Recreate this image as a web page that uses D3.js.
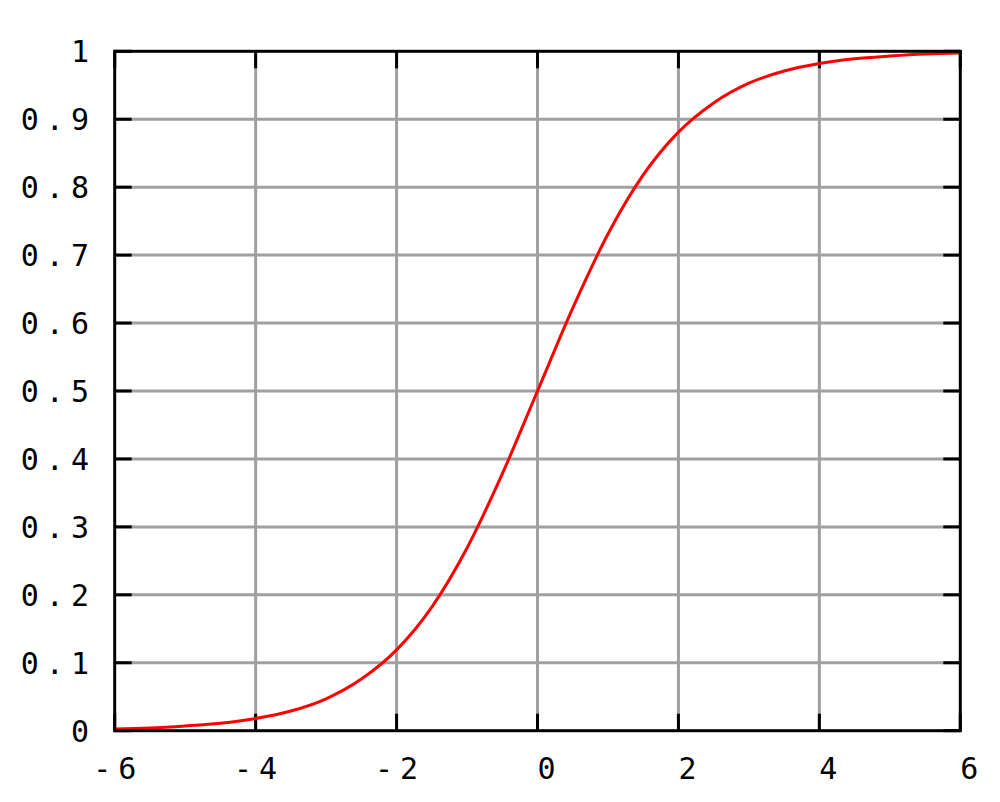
<!DOCTYPE html>
<html>
<head>
<meta charset="utf-8">
<script src="https://cdn.jsdelivr.net/npm/d3@7"></script>
<style>
  html, body { margin: 0; padding: 0; background: #fff; }
  svg { display: block; }
  text { font-family: "DejaVu Sans Mono", "Liberation Mono", monospace; font-size: 30px; fill: #000; letter-spacing: 7px; }
</style>
</head>
<body>
<svg id="chart" width="1000" height="802"></svg>
<script>
// Data
const xValues = [-6, -5.5, -5, -4.5, -4, -3.5, -3, -2.5, -2, -1.5, -1, -0.5, 0,
                 0.5, 1, 1.5, 2, 2.5, 3, 3.5, 4, 4.5, 5, 5.5, 6];
const yValues = [0.0025, 0.004, 0.007, 0.011, 0.018, 0.029, 0.047, 0.076, 0.119, 0.182, 0.269, 0.378, 0.5,
                 0.622, 0.731, 0.818, 0.881, 0.924, 0.953, 0.971, 0.982, 0.989, 0.993, 0.996, 0.9975];
const xTicks = [-6, -4, -2, 0, 2, 4, 6];
const xTickLabels = ["-6", "-4", "-2", "0", "2", "4", "6"];
const yTicks = [0, 0.1, 0.2, 0.3, 0.4, 0.5, 0.6, 0.7, 0.8, 0.9, 1];
const yTickLabels = ["0", "0.1", "0.2", "0.3", "0.4", "0.5", "0.6", "0.7", "0.8", "0.9", "1"];

const svg = d3.select("#chart");
const L = 114.7, R = 960.3, T = 51.3, B = 730.7;
const x = d3.scaleLinear().domain([-6, 6]).range([L, R]);
const y = d3.scaleLinear().domain([0, 1]).range([B, T]);
const tickLen = 17;

// grid lines
const grid = svg.append("g");
grid.selectAll("line.gx").data(xTicks.slice(1, -1)).join("line")
  .attr("x1", d => x(d)).attr("x2", d => x(d)).attr("y1", T).attr("y2", B)
  .attr("stroke", "#a0a0a0").attr("stroke-width", 3);
grid.selectAll("line.gy").data(yTicks.slice(1, -1)).join("line")
  .attr("y1", d => y(d)).attr("y2", d => y(d)).attr("x1", L).attr("x2", R)
  .attr("stroke", "#a0a0a0").attr("stroke-width", 3);

// tick marks (inward, mirrored)
const ticks = svg.append("g").attr("stroke", "#000").attr("stroke-width", 3);
xTicks.forEach(d => {
  ticks.append("line").attr("x1", x(d)).attr("x2", x(d)).attr("y1", B).attr("y2", B - tickLen);
  ticks.append("line").attr("x1", x(d)).attr("x2", x(d)).attr("y1", T).attr("y2", T + tickLen);
});
yTicks.forEach(d => {
  ticks.append("line").attr("y1", y(d)).attr("y2", y(d)).attr("x1", L).attr("x2", L + tickLen);
  ticks.append("line").attr("y1", y(d)).attr("y2", y(d)).attr("x1", R).attr("x2", R - tickLen);
});

// curve
const pts = xValues.map((v, i) => [v, yValues[i]]);
const line = d3.line().x(d => x(d[0])).y(d => y(d[1])).curve(d3.curveMonotoneX);
svg.append("path").datum(pts).attr("d", line)
  .attr("fill", "none").attr("stroke", "#ff0000").attr("stroke-width", 3);

// border
svg.append("rect").attr("x", L).attr("y", T).attr("width", R - L).attr("height", B - T)
  .attr("fill", "none").attr("stroke", "#000").attr("stroke-width", 3);

// y labels
svg.append("g").selectAll("text").data(yTicks).join("text")
  .attr("x", 96).attr("y", d => y(d) + 11)
  .attr("text-anchor", "end")
  .text((d, i) => yTickLabels[i]);

// x labels
svg.append("g").selectAll("text").data(xTicks).join("text")
  .attr("x", (d, i) => x(d) + (xTickLabels[i].length === 1 ? 12.5 : 3.5)).attr("y", 779)
  .attr("text-anchor", "middle")
  .text((d, i) => xTickLabels[i]);
</script>
</body>
</html>
